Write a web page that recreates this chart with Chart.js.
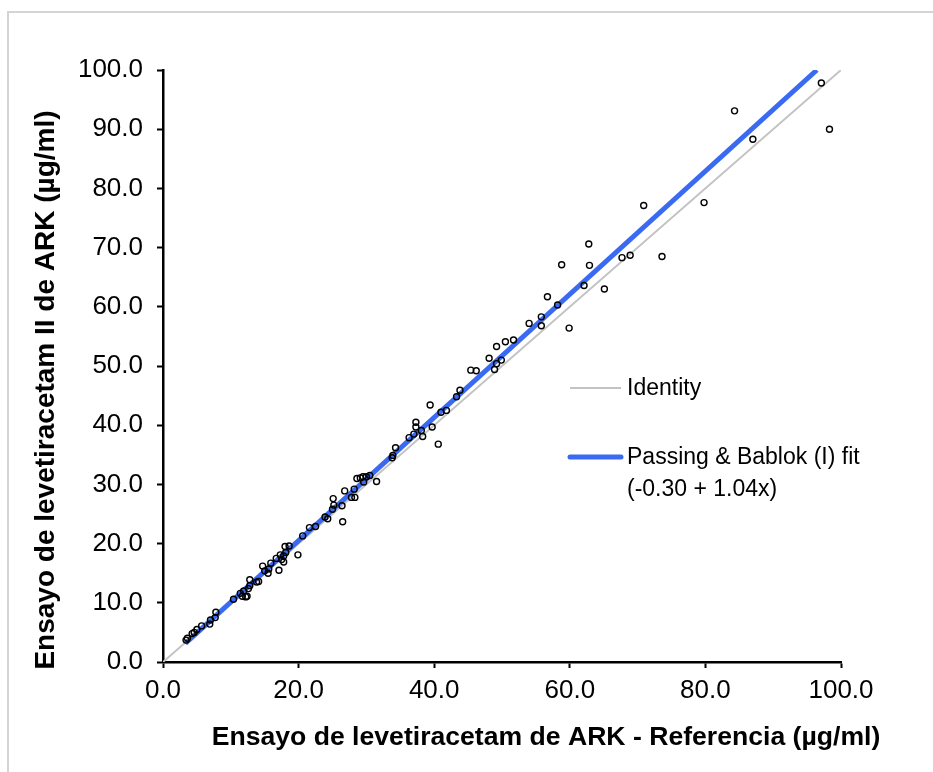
<!DOCTYPE html>
<html>
<head>
<meta charset="utf-8">
<script src="https://cdn.jsdelivr.net/npm/chart.js@4"></script>
<style>
  html, body { margin: 0; padding: 0; background: #fff; overflow: hidden; }
  #frame { position: absolute; left: 7px; top: 11px; width: 1000px; height: 1000px; border: 2px solid #d4d4d4; }
  #wrap { position: absolute; left: 0; top: 0; width: 933px; height: 772px; }
</style>
</head>
<body>
<div id="frame"></div>
<div id="wrap"><canvas id="chart" width="933" height="772"></canvas></div>
<script>
// valores
const refX = [3.4, 3.6, 4.3, 4.6, 5.0, 5.7, 6.9, 7.0, 7.7, 7.8,
  10.4, 11.4, 11.7, 11.9, 12.2, 12.4, 12.6, 12.8, 12.8, 13.8,
  14.1, 14.7, 15.0, 15.5, 15.6, 15.9, 16.7, 17.1, 17.3, 17.5,
  17.8, 17.8, 18.0, 18.1, 18.6, 19.9, 20.6, 21.6, 22.5, 23.9,
  24.3, 26.5, 25.0, 25.2, 25.1, 26.4, 26.8, 27.8, 28.3, 28.2,
  28.6, 29.1, 29.5, 29.6, 30.0, 30.5, 31.5, 33.8, 33.9, 34.3,
  36.3, 37.0, 37.3, 37.3, 38.1, 38.3, 39.7, 39.4, 40.6, 41.0,
  41.8, 43.3, 43.8, 45.4, 46.2, 48.1, 48.9, 49.2, 49.2, 49.9,
  50.5, 51.7, 54.0, 55.8, 55.8, 56.7, 58.2, 59.9, 58.8, 62.1,
  62.9, 62.8, 65.1, 67.7, 68.9, 73.6, 70.9, 79.8, 84.3, 87.0,
  97.1, 98.3];
const arkY = [3.7, 4.0, 4.8, 5.0, 5.5, 6.1, 6.4, 7.1, 7.5, 8.4,
  10.6, 11.6, 11.1, 12.0, 11.0, 11.1, 12.4, 13.9, 12.9, 13.5,
  13.6, 16.2, 15.4, 15.0, 15.7, 16.7, 17.5, 15.5, 18.1, 17.3,
  16.9, 17.9, 19.5, 18.5, 19.6, 18.1, 21.3, 22.7, 22.9, 24.5,
  24.2, 23.7, 25.8, 26.5, 27.6, 26.4, 28.9, 27.8, 27.8, 29.2,
  31.0, 31.1, 31.3, 30.4, 31.3, 31.5, 30.5, 34.5, 34.9, 36.2,
  37.9, 38.5, 40.5, 39.7, 39.1, 38.1, 39.7, 43.4, 36.8, 42.2,
  42.5, 44.8, 45.9, 49.3, 49.2, 51.3, 49.4, 50.4, 53.3, 51.0,
  54.1, 54.4, 57.2, 58.3, 56.8, 61.7, 60.3, 56.4, 67.1, 63.6,
  67.0, 70.6, 63.0, 68.3, 68.7, 68.5, 77.1, 77.6, 93.1, 88.3,
  97.8, 90.0];

const xTicks = [0, 20, 40, 60, 80, 100];
const yTicks = [0, 10, 20, 30, 40, 50, 60, 70, 80, 90, 100];
const identityX = [0, 100];
const fitIntercept = -0.30;
const fitSlope = 1.04;
const fitX = [3.3, 96.44];

const legendLabels = ['Identity', 'Passing & Bablok (I) fit', '(-0.30 + 1.04x)'];
const xTitle = 'Ensayo de levetiracetam de ARK - Referencia (µg/ml)';
const yTitle = 'Ensayo de levetiracetam II de ARK (µg/ml)';

const points = refX.map((x, i) => ({ x: x, y: arkY[i] }));
const identity = identityX.map(x => ({ x: x, y: x }));
const fit = fitX.map(x => ({ x: x, y: fitIntercept + fitSlope * x }));

const GRAY = '#c3c3c3';
const BLUE = '#3a6af2';
const FONT = '"Liberation Sans", Arial, sans-serif';

const extras = {
  id: 'extras',
  afterDraw(chart) {
    const ctx = chart.ctx;
    ctx.save();
    // legend
    ctx.lineCap = 'butt';
    ctx.strokeStyle = GRAY;
    ctx.lineWidth = 2;
    ctx.beginPath(); ctx.moveTo(570, 388); ctx.lineTo(621, 388); ctx.stroke();
    ctx.strokeStyle = BLUE;
    ctx.lineWidth = 5;
    ctx.lineCap = 'round';
    ctx.beginPath(); ctx.moveTo(570, 457); ctx.lineTo(621, 457); ctx.stroke();
    ctx.fillStyle = '#000';
    ctx.font = '23px ' + FONT;
    ctx.textBaseline = 'middle';
    ctx.textAlign = 'left';
    ctx.fillText(legendLabels[0], 627, 389);
    ctx.fillText(legendLabels[1], 627, 458);
    ctx.fillText(legendLabels[2], 627, 490);
    // axis titles
    ctx.font = 'bold 26.6px ' + FONT;
    ctx.textAlign = 'center';
    ctx.fillText(xTitle, 546, 738);
    ctx.translate(46, 390);
    ctx.rotate(-Math.PI / 2);
    ctx.font = 'bold 28px ' + FONT;
    ctx.fillText(yTitle, 0, 0);
    ctx.restore();
  }
};

new Chart(document.getElementById('chart'), {
  type: 'scatter',
  data: {
    datasets: [
      {
        label: 'Data',
        data: points,
        pointStyle: 'circle',
        pointRadius: 3,
        pointHoverRadius: 3,
        pointBorderColor: '#000',
        pointBackgroundColor: 'rgba(0,0,0,0)',
        pointBorderWidth: 1.4,
        showLine: false,
        order: 0
      },
      {
        label: legendLabels[1],
        data: fit,
        showLine: true,
        borderColor: BLUE,
        borderWidth: 5,
        pointRadius: 0,
        order: 1
      },
      {
        label: legendLabels[0],
        data: identity,
        showLine: true,
        borderColor: GRAY,
        borderWidth: 2,
        pointRadius: 0,
        order: 2
      }
    ]
  },
  options: {
    responsive: false,
    animation: false,
    devicePixelRatio: 1,
    layout: { padding: { top: 70, right: 92, left: 0, bottom: 0 } },
    plugins: {
      legend: { display: false },
      tooltip: { enabled: false }
    },
    scales: {
      x: {
        type: 'linear',
        min: 0,
        max: 100,
        afterBuildTicks(scale) { scale.ticks = xTicks.map(v => ({ value: v })); },
        afterFit(scale) { scale.height = 110; },
        border: { color: '#000', width: 2.5 },
        grid: { drawOnChartArea: false, tickLength: 6, tickColor: '#000', tickWidth: 2 },
        ticks: {
          color: '#000',
          padding: 7,
          maxRotation: 0,
          font: { family: FONT, size: 26 },
          callback: v => v.toFixed(1)
        }
      },
      y: {
        type: 'linear',
        min: 0,
        max: 100,
        afterBuildTicks(scale) { scale.ticks = yTicks.map(v => ({ value: v })); },
        afterFit(scale) { scale.width = 163; },
        border: { color: '#000', width: 2.5 },
        grid: { drawOnChartArea: false, tickLength: 6, tickColor: '#000', tickWidth: 2 },
        ticks: {
          color: '#000',
          padding: 14,
          font: { family: FONT, size: 26 },
          callback: v => v.toFixed(1)
        }
      }
    }
  },
  plugins: [extras]
});
</script>
</body>
</html>
